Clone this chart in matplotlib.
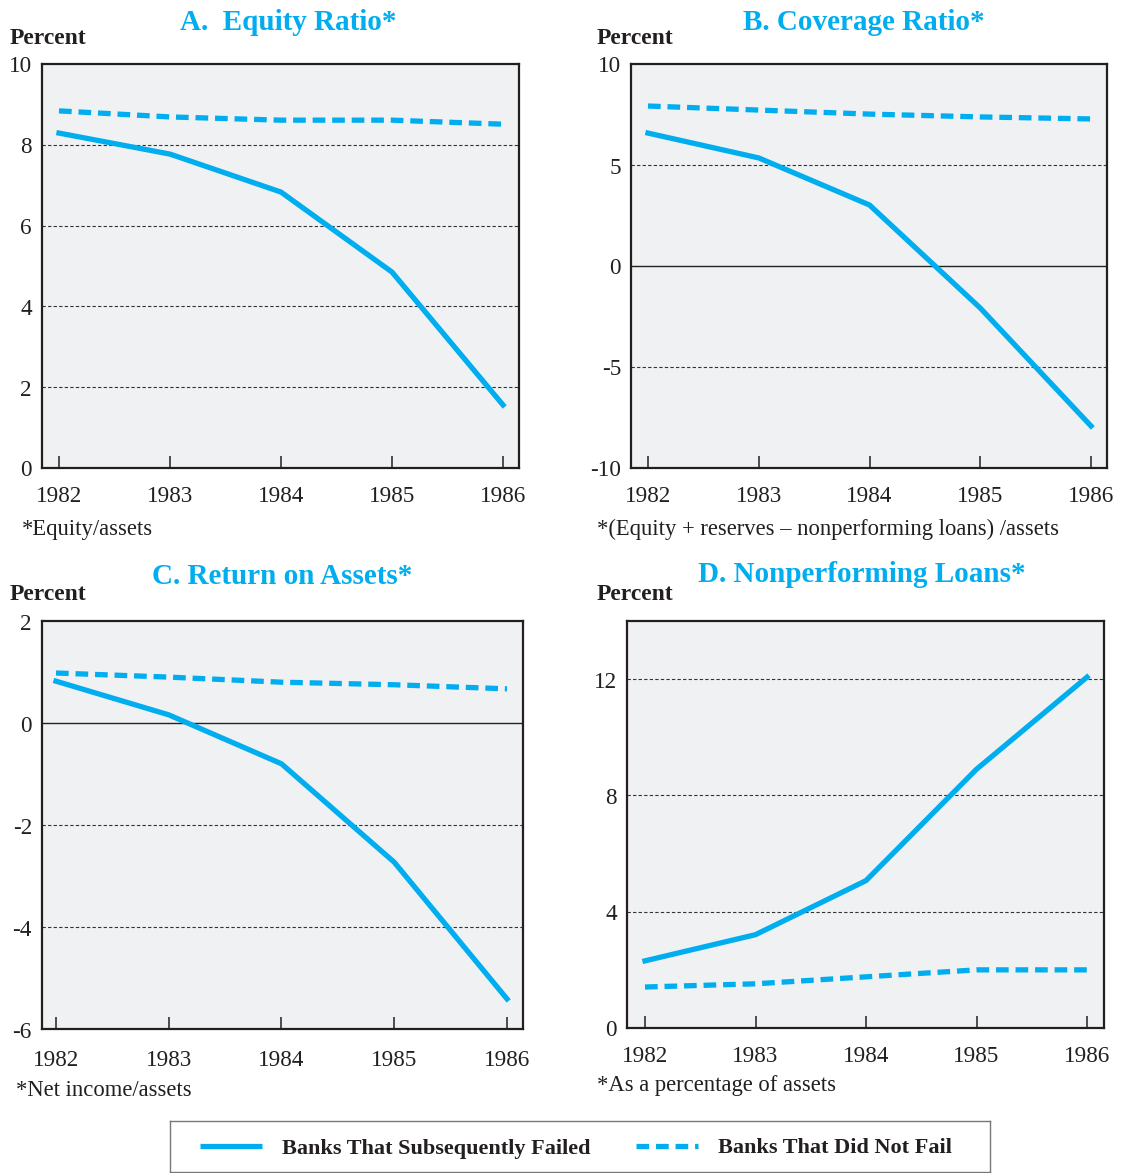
import matplotlib.pyplot as plt

plt.rcParams["font.family"] = ["Liberation Serif", "DejaVu Serif"]

years = [1982, 1983, 1984, 1985, 1986]

# A. Equity ratio
equity_failed = [8.29, 7.77, 6.83, 4.85, 1.56]
equity_ok = [8.84, 8.69, 8.61, 8.61, 8.51]
# B. Coverage ratio
coverage_failed = [6.58, 5.35, 3.02, -2.08, -7.92]
coverage_ok = [7.92, 7.72, 7.52, 7.38, 7.28]
# C. Return on assets
roa_failed = [0.82, 0.16, -0.80, -2.73, -5.41]
roa_ok = [0.98, 0.90, 0.80, 0.75, 0.67]
# D. Nonperforming loans
npl_failed = [2.31, 3.21, 5.07, 8.90, 12.07]
npl_ok = [1.41, 1.52, 1.76, 2.00, 2.00]

CYAN = "#00AEEF"
BG = "#F0F1F3"
INK = "#231f20"
W, H = 1122, 1173
DY = 3  # text sits a bit low compared with va="center"

fig = plt.figure(figsize=(W / 100, H / 100), dpi=100)


def px_axes(x0, y0, x1, y1):
    # pixel box (top-left origin) -> figure fraction
    return fig.add_axes([x0 / W, 1 - y1 / H, (x1 - x0) / W, (y1 - y0) / H])


def px_text(x, y, s, **kw):
    fig.text(x / W, 1 - (y + DY) / H, s, va="center", **kw)


panels = [
    dict(box=(42, 64, 519, 468), title="A.  Equity Ratio*", tx=288, ty=20,
         failed=equity_failed, ok=equity_ok, ylim=(0, 10),
         yticks=[0, 2, 4, 6, 8, 10], dashed=[2, 4, 6, 8], solid=[],
         note="*Equity/assets", note_x=22, note_y=526, px0=59, px1=503,
         year_y=493),
    dict(box=(631, 64, 1107, 468), title="B. Coverage Ratio*", tx=864, ty=20,
         failed=coverage_failed, ok=coverage_ok, ylim=(-10, 10),
         yticks=[-10, -5, 0, 5, 10], dashed=[-5, 5], solid=[0],
         note="*(Equity + reserves \u2013 nonperforming loans) /assets",
         note_x=597, note_y=526, px0=648, px1=1091, year_y=493),
    dict(box=(42, 621, 523, 1029), title="C. Return on Assets*", tx=282, ty=573,
         failed=roa_failed, ok=roa_ok, ylim=(-6, 2),
         yticks=[-6, -4, -2, 0, 2], dashed=[-4, -2], solid=[0],
         note="*Net income/assets", note_x=16, note_y=1087, px0=56, px1=507,
         year_y=1057),
    dict(box=(627, 621, 1104, 1028), title="D. Nonperforming Loans*", tx=862, ty=572,
         failed=npl_failed, ok=npl_ok, ylim=(0, 14),
         yticks=[0, 4, 8, 12], dashed=[4, 8, 12], solid=[],
         note="*As a percentage of assets", note_x=597, note_y=1082,
         px0=645, px1=1087, year_y=1053),
]

for p in panels:
    x0, y0, x1, y1 = p["box"]
    ax = px_axes(x0, y0, x1, y1)
    ax.set_facecolor(BG)
    per_year = (p["px1"] - p["px0"]) / 4
    ax.set_xlim(1982 - (p["px0"] - x0) / per_year, 1986 + (x1 - p["px1"]) / per_year)
    ax.set_ylim(*p["ylim"])

    for g in p["dashed"]:
        ax.axhline(g, color="#333333", lw=0.8, ls=(0, (3, 2)), zorder=1)
    for g in p["solid"]:
        ax.axhline(g, color="#222222", lw=1.0, zorder=1)

    ax.plot(years, p["ok"], color=CYAN, lw=3.8, ls=(0, (2.4, 1.3)),
            solid_capstyle="butt", zorder=3)
    ax.plot(years, p["failed"], color=CYAN, lw=3.8, zorder=3)

    for s in ax.spines.values():
        s.set_linewidth(1.6)
        s.set_color(INK)

    ax.set_xticks(years)
    ax.set_xticklabels([])
    ax.tick_params(axis="x", direction="in", length=9, width=1.1, color=INK)
    ax.set_yticks([])

    # year labels below the axis
    for yr in years:
        xp = p["px0"] + (yr - 1982) * per_year
        px_text(xp, p["year_y"], str(yr), ha="center", fontsize=16.7, color=INK)

    # y labels to the left of the axis
    ymin, ymax = p["ylim"]
    for t in p["yticks"]:
        yp = y1 - (t - ymin) / (ymax - ymin) * (y1 - y0)
        px_text(x0 - 10, yp, str(t), ha="right", fontsize=16.7, color=INK)

    left = 10 if x0 < 300 else 597
    px_text(left, y0 - 29, "Percent", ha="left", fontsize=17,
            fontweight="bold", color=INK)
    px_text(p["tx"], p["ty"], p["title"], ha="center", fontsize=21,
            fontweight="bold", color=CYAN)
    px_text(p["note_x"], p["note_y"], p["note"], ha="left",
            fontsize=16.3, color=INK)

# legend box at the bottom
lax = px_axes(170, 1121, 990, 1172)
lax.set_xlim(170, 990)
lax.set_ylim(1172, 1121)
lax.set_xticks([])
lax.set_yticks([])
for s in lax.spines.values():
    s.set_linewidth(1.0)
    s.set_color("#777777")
lax.plot([200, 262], [1146, 1146], color=CYAN, lw=3.8, solid_capstyle="butt")
lax.plot([636, 698], [1146, 1146], color=CYAN, lw=3.8, ls=(0, (2.4, 1.3)),
         solid_capstyle="butt")
lax.text(282, 1149, "Banks That Subsequently Failed", ha="left", va="center",
         fontsize=16, fontweight="bold", color=INK)
lax.text(718, 1148, "Banks That Did Not Fail", ha="left", va="center",
         fontsize=16, fontweight="bold", color=INK)

fig.savefig("out.png", dpi=100)
